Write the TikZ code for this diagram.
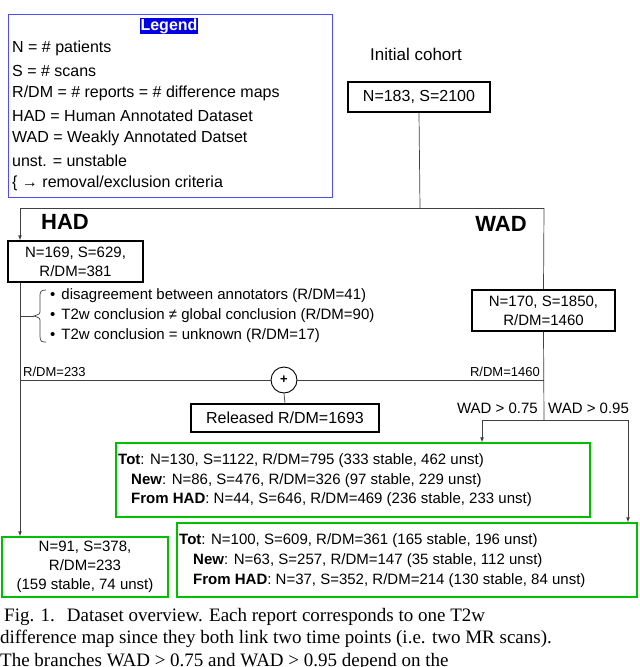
\documentclass[tikz,border=0pt]{standalone}
\usepackage{fontspec}
\setmainfont{Liberation Sans}
\newfontfamily\capfont{Liberation Serif}
\usetikzlibrary{calc}
\begin{document}
\begin{tikzpicture}[x=1pt,y=-1pt,
  box/.style={draw,line width=1.3pt,inner sep=0pt},
  gbox/.style={draw=green!75!black,line width=1.3pt},
  ln/.style={draw=black!75,line width=0.7pt},
  arr/.style={ln,-latex},
  t/.style={font=\fontsize{16}{19}\selectfont,inner sep=0pt},
  s/.style={font=\fontsize{15}{18}\selectfont,inner sep=0pt},
  captxt/.style={font=\capfont\fontsize{19}{22}\selectfont,anchor=west,inner sep=0pt},
  lab/.style={font=\fontsize{13}{15}\selectfont,inner sep=0pt}]
\useasboundingbox (0,0) rectangle (640,667);
\begin{scope}
\clip (0,0) rectangle (640,667);
% legend
\draw[draw=blue!70,line width=1pt] (8,14) rectangle (332,197);
\node[fill=blue!90!black,text=white,font=\bfseries\fontsize{16}{19}\selectfont,inner sep=1pt] (leg) at (169,26) {Legend};
\foreach \i/\txt in {0/{N = \# patients},1/{S = \# scans},2/{R/DM = \# reports = \# difference maps},3/{HAD = Human Annotated Dataset},4/{WAD = Weakly Annotated Datset},5/{unst. = unstable},6/{\{ → removal/exclusion criteria}}
  \node[t,anchor=west] (l\i) at (12,{48+22.5*\i}) {\txt};
\node[font=\fontsize{17}{20}\selectfont] (ic) at (416,54) {Initial cohort};
\node[box,minimum width=142,minimum height=30,font=\fontsize{16}{19}\selectfont] (init) at (419,97) {N=183, S=2100};
\coordinate (j) at (420,208);
\coordinate (jl) at (20,208);
\coordinate (jr) at (544,208);
\draw[ln] (init.south) -- (j);
\draw[ln] (jl) -- (jr);
\node[font=\bfseries\fontsize{22}{26}\selectfont] (had) at (65,222) {HAD};
\node[font=\bfseries\fontsize{22}{26}\selectfont] (wad) at (501,224) {WAD};
\node[box,minimum width=135,minimum height=41,align=center,font=\fontsize{15}{19}\selectfont] (hadb) at (75.5,261.5) {N=169, S=629,\\R/DM=381};
\draw[arr] (jl) -- (jl|-hadb.north);
\node[box,minimum width=143,minimum height=41,align=center,font=\fontsize{15}{19}\selectfont] (wadb) at (543.5,310.5) {N=170, S=1850,\\R/DM=1460};
\draw[ln] (jr) -- (wadb.north);
% brace + criteria
\draw[ln] (46,290) .. controls (40,290) and (40,292) .. (40,298) -- (40,310) .. controls (40,314) .. (34,316) .. controls (40,318) .. (40,322) -- (40,336) .. controls (40,342) and (42,342) .. (46,342);
\coordinate (bt) at (34,316);
\draw[ln] (20,316) -- (bt);
\foreach \i/\txt in {0/{disagreement between annotators (R/DM=41)},1/{T2w conclusion ≠ global conclusion (R/DM=90)},2/{T2w conclusion = unknown (R/DM=17)}}
  \node[s,anchor=west] (c\i) at (50,{296+20*\i}) {•\hspace{6pt}\txt};
% merge
\node[circle,draw,line width=0.9pt,minimum size=26,inner sep=0,font=\bfseries\fontsize{13}{15}\selectfont] (plus) at (284,380) {+};
\coordinate (ml) at (20,380);
\coordinate (mr) at (544,380);
\draw[ln] (ml) -- (plus.west);
\draw[ln] (plus.east) -- (mr);
\node[lab,anchor=south west] (r233) at (23,377) {R/DM=233};
\node[lab,anchor=south east] (r1460) at (540,377) {R/DM=1460};
\node[box,minimum width=188,minimum height=28,font=\fontsize{16}{19}\selectfont] (rel) at (285,418) {Released R/DM=1693};
\draw[ln] (plus.south) -- (rel.north);
% WAD split
\coordinate (sp) at (544,420);
\coordinate (spl) at (482,420);
\coordinate (spr) at (628,420);
\draw[ln] (wadb.south) -- (sp);
\draw[ln] (spl) -- (spr);
\node[s,anchor=east] (w75) at (538,408) {WAD > 0.75};
\node[s,anchor=west] (w95) at (548,408) {WAD > 0.95};
% green boxes
\node[gbox,minimum width=474,minimum height=74,inner sep=0] (g1) at (353,480) {};
\node[s,anchor=west] (g1a) at (118,461) {\textbf{Tot}: N=130, S=1122, R/DM=795 (333 stable, 462 unst)};
\node[s,anchor=west] (g1b) at (131,481) {\textbf{New}: N=86, S=476, R/DM=326 (97 stable, 229 unst)};
\node[s,anchor=west] (g1c) at (131,500) {\textbf{From HAD}: N=44, S=646, R/DM=469 (236 stable, 233 unst)};
\node[gbox,minimum width=460,minimum height=74,inner sep=0] (g2) at (407,560) {};
\node[s,anchor=west] (g2a) at (179,541) {\textbf{Tot}: N=100, S=609, R/DM=361 (165 stable, 196 unst)};
\node[s,anchor=west] (g2b) at (193,561) {\textbf{New}: N=63, S=257, R/DM=147 (35 stable, 112 unst)};
\node[s,anchor=west] (g2c) at (193,581) {\textbf{From HAD}: N=37, S=352, R/DM=214 (130 stable, 84 unst)};
\node[gbox,minimum width=166,minimum height=60,align=center,font=\fontsize{15}{19}\selectfont,inner sep=0] (g3) at (85,567) {N=91, S=378,\\R/DM=233\\(159 stable, 74 unst)};
\draw[arr] (spl) -- (g1.north-|spl);
\draw[arr] (spr) -- (g2.north-|spr);
\draw[arr] (hadb.south-|jl) -- (g3.north-|jl);
% caption
\node[captxt] (cap1) at (4,617) {Fig. 1.\hspace{12pt}Dataset overview. Each report corresponds to one T2w};
\node[captxt] (cap2) at (0,639) {difference map since they both link two time points (i.e. two MR scans).};
\node[captxt] (cap3) at (0,662) {The branches WAD > 0.75 and WAD > 0.95 depend on the};
\end{scope}
\end{tikzpicture}
\end{document}
